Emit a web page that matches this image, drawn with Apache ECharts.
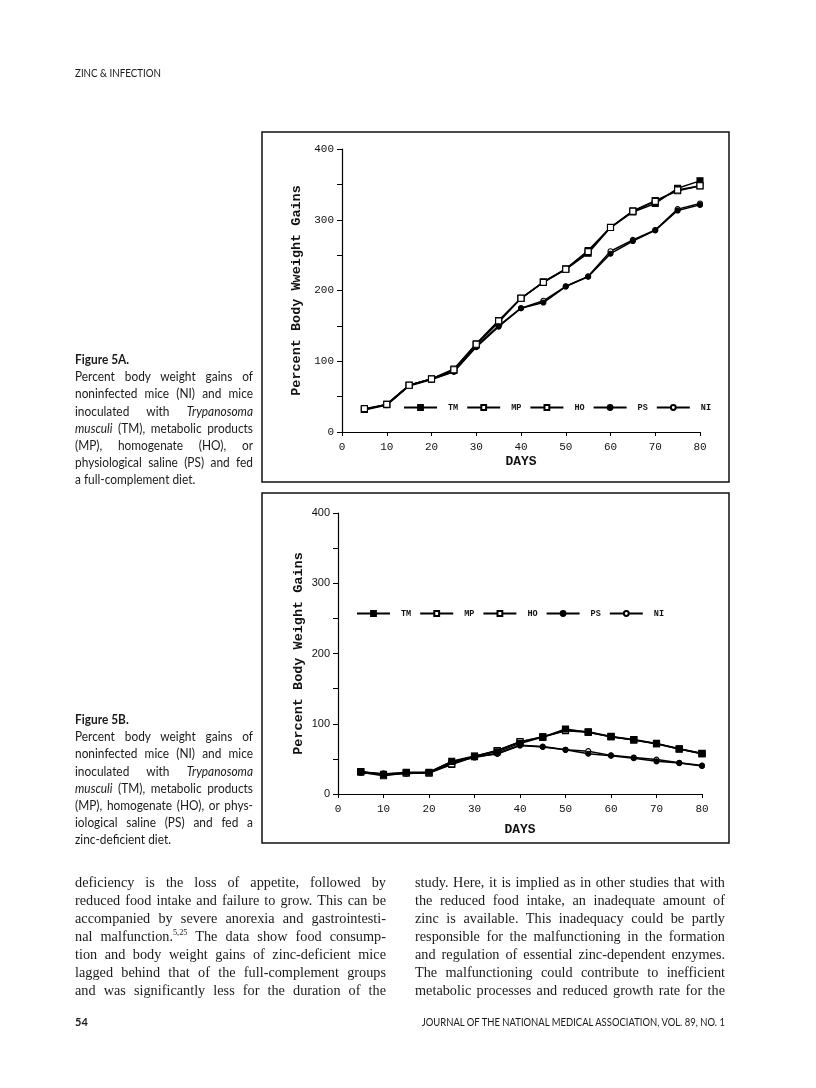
<!DOCTYPE html>
<html><head><meta charset="utf-8">
<script src="https://cdn.jsdelivr.net/npm/echarts@6/dist/echarts.min.js"></script>
<style>
html,body{margin:0;padding:0;background:#fff;}
#page{position:relative;width:816px;height:1088px;overflow:hidden;background:#fff;}
#chart{position:absolute;left:0;top:0;width:816px;height:1088px;}
.ln{position:absolute;white-space:nowrap;transform-origin:0 0;color:#1a1a1a;}
.jl{text-align:justify;text-align-last:justify;white-space:normal;overflow:visible;}
.cap{font-family:Lato,"Noto Sans",sans-serif;font-size:13.5px;line-height:17px;}
.prose{font-family:"Liberation Serif","DejaVu Serif",serif;font-size:15.5px;line-height:18px;}
sup{font-size:9px;line-height:0;vertical-align:6px;}
</style></head>
<body><div id="page"><div id="chart"></div><div id="txt"></div></div>
<script>
// ---------------- data ----------------
const days = [5, 10, 15, 20, 25, 30, 35, 40, 45, 50, 55, 60, 65, 70, 75, 80];
const groupNames = ['TM', 'MP', 'HO', 'PS', 'NI'];
const xTickValues = [0, 10, 20, 30, 40, 50, 60, 70, 80];
const yTickValues = [0, 100, 200, 300, 400];

// Figure 5A: full-complement diet
const tmA = [32, 38.6, 66, 75, 87, 123, 155, 189, 212, 230, 252.7, 289, 311, 323, 344.5, 355];
const mpA = [32, 39, 66, 75, 89, 124.7, 157.6, 189, 212, 230.6, 256.5, 289.4, 312.5, 327, 341, 347.8];
const hoA = [33, 39, 66, 75, 88, 124, 157, 189, 211.5, 230, 255, 289, 312, 326, 342, 348];
const psA = [31, 38, 65, 74, 85, 120, 149, 175, 183, 205.6, 219.5, 252, 270, 285, 313, 321];
const niA = [32, 39, 66, 75, 85.6, 121, 150, 175, 185.5, 206, 220, 255.5, 271.5, 285.6, 315, 323];

// Figure 5B: zinc-deficient diet
const tmB = [32, 28, 31, 31, 46.5, 54, 60, 72, 81, 92.5, 88, 81.6, 77, 71.6, 64, 57.4];
const mpB = [31, 26, 30, 30, 42, 53, 62, 74, 81, 90, 88, 81.6, 77, 71.6, 64, 57.4];
const hoB = [32, 27, 30, 30, 43, 53.6, 62, 74.5, 81.5, 90.5, 88.5, 82, 77.5, 72, 64.5, 57.9];
const psB = [30, 29, 29, 31, 46, 53, 57, 69, 67, 63, 57.4, 54.6, 51, 46.5, 44, 40];
const niB = [31, 29, 30, 30, 45, 52, 58, 69.5, 67.5, 63, 61, 55, 52, 49, 44.5, 40.5];

const yNameA = 'Percent Body Wweight Gains';
const yNameB = 'Percent Body Weight Gains';
const xName = 'DAYS';

// ---------------- page text ----------------
const headerText = 'ZINC & INFECTION';
const capA = ['<b>Figure 5A.</b>', 'Percent body weight gains of', 'noninfected mice (NI) and mice',
  'inoculated with <i>Trypanosoma</i>', '<i>musculi</i> (TM), metabolic products',
  '(MP), homogenate (HO), or', 'physiological saline (PS) and fed', 'a full-complement diet.'];
const capB = ['<b>Figure 5B.</b>', 'Percent body weight gains of', 'noninfected mice (NI) and mice',
  'inoculated with <i>Trypanosoma</i>', '<i>musculi</i> (TM), metabolic products',
  '(MP), homogenate (HO), or phys-', 'iological saline (PS) and fed a', 'zinc-deficient diet.'];
const proseL = ['deficiency is the loss of appetite, followed by',
  'reduced food intake and failure to grow. This can be',
  'accompanied by severe anorexia and gastrointesti-',
  'nal malfunction.<sup>5,25</sup> The data show food consump-',
  'tion and body weight gains of zinc-deficient mice',
  'lagged behind that of the full-complement groups',
  'and was significantly less for the duration of the'];
const proseR = ['study. Here, it is implied as in other studies that with',
  'the reduced food intake, an inadequate amount of',
  'zinc is available. This inadequacy could be partly',
  'responsible for the malfunctioning in the formation',
  'and regulation of essential zinc-dependent enzymes.',
  'The malfunctioning could contribute to inefficient',
  'metabolic processes and reduced growth rate for the'];
const footLeft = '54';
const footRight = 'JOURNAL OF THE NATIONAL MEDICAL ASSOCIATION, VOL. 89, NO. 1';

function addLine(html, cls, left, top, width, scale, justify, extra) {
  const d = document.createElement('div');
  d.className = 'ln ' + cls + (justify ? ' jl' : '');
  d.innerHTML = html;
  d.style.left = left + 'px';
  d.style.top = top + 'px';
  if (width) d.style.width = (width / scale) + 'px';
  d.style.transform = 'scaleX(' + scale + ')';
  if (extra) Object.assign(d.style, extra);
  document.getElementById('txt').appendChild(d);
}
const hdrStyle = {fontFamily: 'Lato, sans-serif', fontSize: '10.5px'};
addLine(headerText, '', 75, 67, null, 0.93, false, hdrStyle);
capA.forEach((t, i) => addLine(t, 'cap', 75, 351 + i * 17.2, 178, 0.88, i > 0 && i < capA.length - 1));
capB.forEach((t, i) => addLine(t, 'cap', 75, 711 + i * 17.2, 178, 0.88, i > 0 && i < capB.length - 1));
proseL.forEach((t, i) => addLine(t, 'prose', 75, 873 + i * 18, 311, 0.92, true));
proseR.forEach((t, i) => addLine(t, 'prose', 415, 873 + i * 18, 310, 0.92, true));
addLine(footLeft, '', 75, 1015, null, 1, false, {fontFamily: 'Lato, sans-serif', fontWeight: 'bold', fontSize: '11px'});
addLine(footRight, '', 415, 1015, 310, 0.86, false, {fontFamily: 'Lato, sans-serif', fontSize: '11px', textAlign: 'right'});

// ---------------- chart ----------------
const styleOf = {
  TM: {symbol: 'rect', size: 6, fill: '#000'},
  MP: {symbol: 'rect', size: 6, fill: '#fff'},
  HO: {symbol: 'rect', size: 6, fill: '#fff'},
  PS: {symbol: 'circle', size: 5, fill: '#000'},
  NI: {symbol: 'circle', size: 5, fill: '#fff'}
};
function mkSeries(name, vals, gi, z) {
  const s = styleOf[name];
  return {
    name: name, type: 'line', xAxisIndex: gi, yAxisIndex: gi, z: z,
    data: days.map((d, i) => [d, vals[i]]),
    symbol: s.symbol, symbolSize: s.size, showAllSymbol: true,
    lineStyle: {color: '#000', width: 1.5},
    itemStyle: {color: s.fill, borderColor: '#000', borderWidth: 1.1},
    emphasis: {disabled: true}, animation: false
  };
}
const monoFont = '"Liberation Mono","DejaVu Sans Mono",monospace';
function mkX(gi) {
  return {
    type: 'value', gridIndex: gi, min: 0, max: 80, interval: 10,
    name: xName, nameLocation: 'middle', nameGap: gi === 0 ? 23 : 29,
    nameTextStyle: {fontFamily: monoFont, fontWeight: 'bold', fontSize: 13, color: '#111'},
    axisLine: {show: true, lineStyle: {color: '#000', width: 1.2}},
    axisTick: {show: true, length: 4, lineStyle: {color: '#000'}},
    axisLabel: {fontFamily: monoFont, fontSize: 11, color: '#111', margin: 10},
    splitLine: {show: false}
  };
}
function mkY(gi, nm) {
  return {
    type: 'value', gridIndex: gi, min: 0, max: 400, interval: 100,
    name: nm, nameLocation: 'middle', nameGap: gi === 0 ? 38 : 32, nameRotate: 90,
    nameTextStyle: {fontFamily: monoFont, fontWeight: 'bold', fontSize: 13.5, color: '#111'},
    axisLine: {show: true, lineStyle: {color: '#000', width: 1.2}},
    axisTick: {show: true, length: 5, lineStyle: {color: '#000'}},
    minorTick: {show: true, splitNumber: 2, length: 5, lineStyle: {color: '#000'}},
    axisLabel: {fontFamily: gi === 0 ? monoFont : '"Liberation Sans",Arial,sans-serif', fontSize: 11, color: '#111', margin: 8},
    splitLine: {show: false}, minorSplitLine: {show: false}
  };
}
function mkLegend(left, top) {
  return {
    data: groupNames, left: left, top: top, orient: 'horizontal', padding: 0,
    itemWidth: 33, itemHeight: 6, itemGap: 8, selectedMode: false,
    textStyle: {fontFamily: monoFont, fontWeight: 'bold', fontSize: 8.5, color: '#111', padding: [2, 0, 0, 6]}
  };
}
const chart = echarts.init(document.getElementById('chart'), null, {renderer: 'canvas'});
chart.setOption({
  animation: false,
  backgroundColor: 'transparent',
  graphic: [
    {type: 'rect', shape: {x: 262, y: 132, width: 467, height: 350}, style: {fill: 'none', stroke: '#111', lineWidth: 1.5}, silent: true},
    {type: 'rect', shape: {x: 262, y: 493, width: 467, height: 350}, style: {fill: 'none', stroke: '#111', lineWidth: 1.5}, silent: true}
  ],
  grid: [
    {left: 342, right: 116, top: 149, bottom: 656, containLabel: false, outerBoundsMode: 'none'},
    {left: 338, right: 114, top: 513, bottom: 294, containLabel: false, outerBoundsMode: 'none'}
  ],
  xAxis: [mkX(0), mkX(1)],
  yAxis: [mkY(0, yNameA), mkY(1, yNameB)],
  legend: [mkLegend(403, 403), mkLegend(356, 609)],
  tooltip: {show: false},
  series: [
    mkSeries('NI', niA, 0, 2), mkSeries('PS', psA, 0, 3),
    mkSeries('TM', tmA, 0, 4), mkSeries('MP', mpA, 0, 5), mkSeries('HO', hoA, 0, 6),
    mkSeries('NI', niB, 1, 2), mkSeries('PS', psB, 1, 3),
    mkSeries('MP', mpB, 1, 4), mkSeries('HO', hoB, 1, 5), mkSeries('TM', tmB, 1, 6)
  ]
});
</script></body></html>
